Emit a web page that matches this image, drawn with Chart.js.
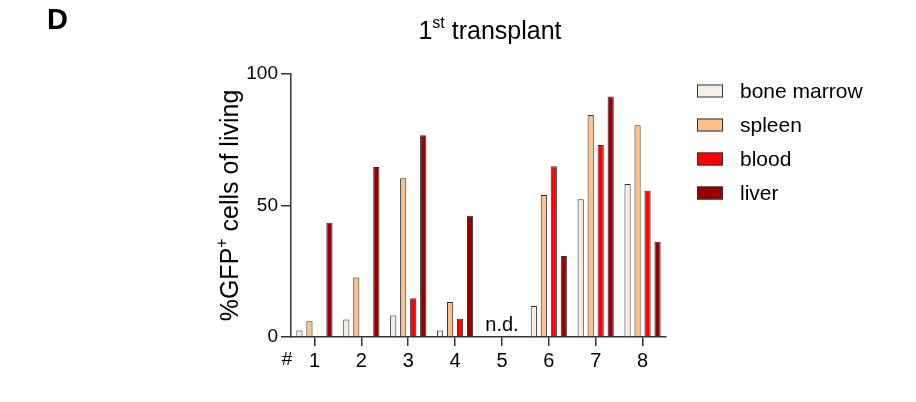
<!DOCTYPE html>
<html>
<head>
<meta charset="utf-8">
<script src="https://cdn.jsdelivr.net/npm/chart.js@4/dist/chart.umd.min.js"></script>
<style>
  body { margin: 0; background: #fff; }
  #wrap { width: 916px; height: 402px; }
</style>
</head>
<body>
<div id="wrap"><canvas id="chart" width="916" height="402"></canvas></div>
<script>
// mouse number (# 1..8), mouse 5 not determined
const mice = ['1', '2', '3', '4', '5', '6', '7', '8'];
const boneMarrow = [2.5, 6.7, 8.2, 2.5, null, 11.8, 52.4, 58.2];
const spleen     = [6.0, 22.6, 60.4, 13.3, null, 54.0, 84.4, 80.5];
const blood      = [null, null, 14.7, 6.9, null, 64.9, 73.0, 55.6];
const liver      = [43.4, 64.6, 76.7, 46.1, null, 30.8, 91.4, 36.2];
const yTicks = [0, 50, 100];
const notDetected = ['5'];

const FONT = 'Liberation Sans, Arial, Helvetica, sans-serif';
const edge = '#2e2e3a';

// title, axis title, panel letter, "#", n.d. and legend
const annotations = {
    id: 'annotations',
    afterDraw(chart) {
        const ctx = chart.ctx;
        const area = chart.chartArea;
        const x = chart.scales.x;
        ctx.save();
        ctx.fillStyle = '#000';

        // panel letter
        ctx.font = 'bold 29px ' + FONT;
        ctx.textAlign = 'left';
        ctx.textBaseline = 'alphabetic';
        ctx.fillText('D', 47, 29);

        // title with superscript
        ctx.font = '25px ' + FONT;
        const w1 = ctx.measureText('1').width;
        ctx.font = '16px ' + FONT;
        const wSt = ctx.measureText('st').width;
        ctx.font = '25px ' + FONT;
        const wRest = ctx.measureText(' transplant').width;
        let tx = 490 - (w1 + wSt + wRest) / 2;
        ctx.fillText('1', tx, 39);
        tx += w1;
        ctx.font = '16px ' + FONT;
        ctx.fillText('st', tx, 28);
        tx += wSt;
        ctx.font = '25px ' + FONT;
        ctx.fillText(' transplant', tx, 39);

        // y axis title, rotated
        ctx.save();
        ctx.translate(238, (area.top + area.bottom) / 2);
        ctx.rotate(-Math.PI / 2);
        ctx.font = '25px ' + FONT;
        const a = '%GFP', b = ' cells of living';
        const wa = ctx.measureText(a).width;
        ctx.font = '16px ' + FONT;
        const wp = ctx.measureText('+').width;
        ctx.font = '25px ' + FONT;
        const wb = ctx.measureText(b).width;
        let yx = -(wa + wp + wb) / 2;
        ctx.fillText(a, yx, 0);
        yx += wa;
        ctx.font = '16px ' + FONT;
        ctx.fillText('+', yx, -11);
        yx += wp;
        ctx.font = '25px ' + FONT;
        ctx.fillText(b, yx, 0);
        ctx.restore();

        // "#" before the mouse numbers
        ctx.font = '19px ' + FONT;
        ctx.textAlign = 'center';
        ctx.textBaseline = 'middle';
        ctx.fillText('#', area.left - 4, area.bottom + 23);

        // n.d.
        ctx.font = '20px ' + FONT;
        ctx.textBaseline = 'alphabetic';
        notDetected.forEach(m => {
            ctx.fillText('n.d.', x.getPixelForValue(mice.indexOf(m)), area.bottom - 6);
        });

        // legend
        ctx.textAlign = 'left';
        ctx.textBaseline = 'middle';
        ctx.font = '21px ' + FONT;
        chart.data.datasets.forEach((ds, i) => {
            const cy = 91 + i * 34;
            ctx.fillStyle = ds.backgroundColor;
            ctx.fillRect(697, cy - 6.5, 26, 13);
            ctx.strokeStyle = edge;
            ctx.lineWidth = 1;
            ctx.strokeRect(697.5, cy - 6, 25, 12);
            ctx.fillStyle = '#000';
            ctx.fillText(ds.label, 740, cy + 1);
        });
        ctx.restore();
    }
};

const barStyle = {
    borderColor: edge,
    borderWidth: 1,
    categoryPercentage: 0.853,
    barPercentage: 0.62
};

new Chart(document.getElementById('chart'), {
    type: 'bar',
    data: {
        labels: mice,
        datasets: [
            { label: 'bone marrow', data: boneMarrow, backgroundColor: '#f4efe4', ...barStyle },
            { label: 'spleen', data: spleen, backgroundColor: '#fcc088', ...barStyle },
            { label: 'blood', data: blood, backgroundColor: '#ff0000', ...barStyle },
            { label: 'liver', data: liver, backgroundColor: '#990000', ...barStyle }
        ]
    },
    options: {
        responsive: false,
        animation: false,
        devicePixelRatio: 1,
        layout: {
            padding: { left: 231, right: 250, top: 74, bottom: 0 }
        },
        plugins: {
            legend: { display: false },
            title: { display: false },
            tooltip: { enabled: false }
        },
        scales: {
            x: {
                offset: true,
                grid: {
                    offset: false,
                    drawOnChartArea: false,
                    drawTicks: true,
                    tickLength: 9,
                    color: '#333',
                    lineWidth: 1.5
                },
                border: { display: true, color: '#333', width: 1.5 },
                ticks: {
                    color: '#000',
                    font: { family: FONT, size: 20 },
                    padding: 3,
                    maxRotation: 0
                },
                afterFit(scale) { scale.height = 65; }
            },
            y: {
                min: 0,
                max: 100,
                afterBuildTicks(scale) {
                    scale.ticks = yTicks.map(v => ({ value: v }));
                },
                grid: {
                    drawOnChartArea: false,
                    drawTicks: true,
                    tickLength: 10,
                    color: '#333',
                    lineWidth: 1.5
                },
                border: { display: true, color: '#333', width: 1.5 },
                ticks: {
                    color: '#000',
                    font: { family: FONT, size: 19 },
                    padding: 3
                },
                afterFit(scale) { scale.width = 60; }
            }
        }
    },
    plugins: [annotations]
});
</script>
</body>
</html>
